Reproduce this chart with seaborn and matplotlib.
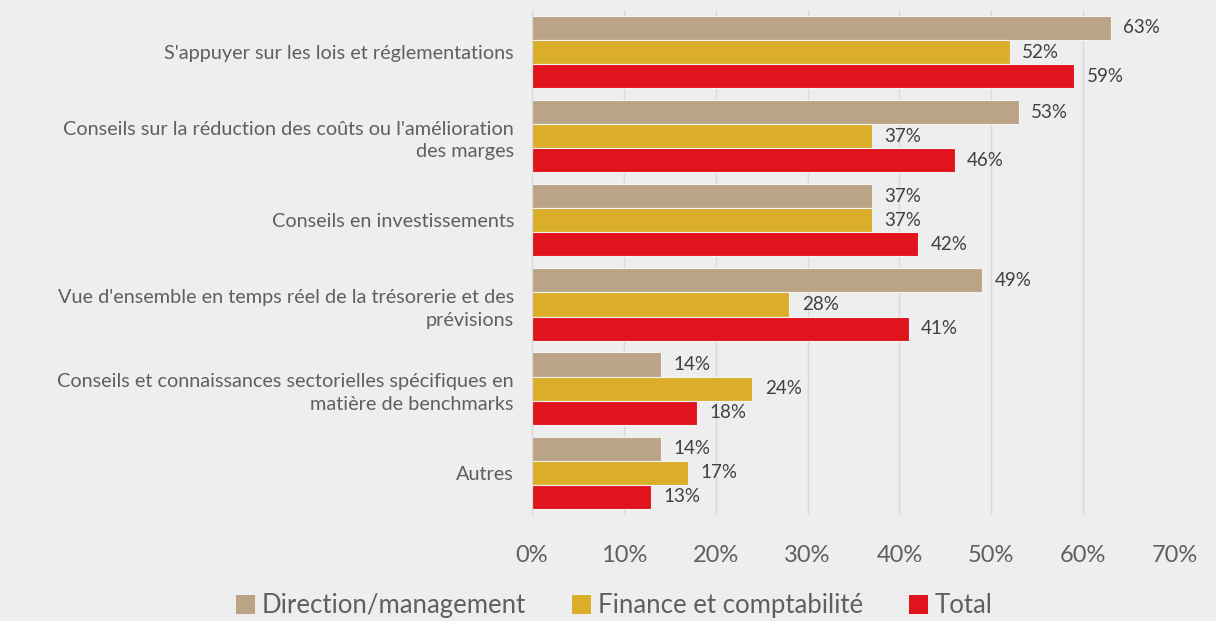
import pandas as pd
import matplotlib.pyplot as plt
import matplotlib.ticker as ticker
import seaborn as sns

# chart values
categories = [
    "S'appuyer sur les lois et réglementations",
    "Conseils sur la réduction des coûts ou l'amélioration\ndes marges",
    "Conseils en investissements",
    "Vue d'ensemble en temps réel de la trésorerie et des\nprévisions",
    "Conseils et connaissances sectorielles spécifiques en\nmatière de benchmarks",
    "Autres",
]
series = ["Direction/management", "Finance et comptabilité", "Total"]
direction = [63, 53, 37, 49, 14, 14]
finance = [52, 37, 37, 28, 24, 17]
total = [59, 46, 42, 41, 18, 13]
colors = ["#BBA386", "#DAAE29", "#E1131D"]

rows = []
for name, vals in zip(series, [direction, finance, total]):
    for cat, v in zip(categories, vals):
        rows.append({"cat": cat, "serie": name, "val": v})
df = pd.DataFrame(rows)

sns.set_style("white")
plt.rcParams['font.family'] = ['Lato', 'DejaVu Sans']
bg = "#EDEEED"

fig = plt.figure(figsize=(12.16, 6.21), dpi=100, facecolor=bg)
ax = fig.add_axes([0.4375, 0.171, 0.5288, 0.813])
ax.set_facecolor(bg)

sns.barplot(data=df, y="cat", x="val", hue="serie", hue_order=series,
            palette=colors, width=0.86, saturation=1, orient="h", ax=ax,
            edgecolor="#F2F2F2", linewidth=0.8)

for cont in ax.containers:
    ax.bar_label(cont, labels=[f"{int(v)}%" for v in cont.datavalues],
                 padding=9, fontsize=13.5, color="#404040")

ax.set_xlim(0, 70)
ax.set_ylim(5.5, -0.5)
ax.xaxis.set_major_locator(ticker.MultipleLocator(10))
ax.xaxis.set_major_formatter(ticker.FuncFormatter(lambda v, p: f"{int(v)}%"))
ax.grid(axis="x", color="#D9D9D9", linewidth=1)
ax.set_axisbelow(True)
for s in ["top", "right", "bottom"]:
    ax.spines[s].set_visible(False)
ax.spines["left"].set_color("#D9D9D9")
ax.tick_params(axis="x", length=0, pad=22, labelsize=17, labelcolor="#5F5F5F")
ax.tick_params(axis="y", length=0, pad=13, labelsize=14.3, labelcolor="#5F5F5F")
for lab in ax.get_yticklabels():
    lab.set_multialignment("right")
    lab.set_linespacing(1.4)
ax.set_xlabel("")
ax.set_ylabel("")

handles, labels = ax.get_legend_handles_labels()
for h in handles:
    h.set_edgecolor("none")
ax.legend(handles, labels, loc="lower center", bbox_to_anchor=(0.505, -0.012),
          bbox_transform=fig.transFigure, ncol=3, frameon=False, fontsize=18.5,
          labelcolor="#5F5F5F", handlelength=0.75, handleheight=0.75,
          handletextpad=0.25, columnspacing=1.8, borderaxespad=0)

plt.savefig("out.png", dpi=100, facecolor=bg)
